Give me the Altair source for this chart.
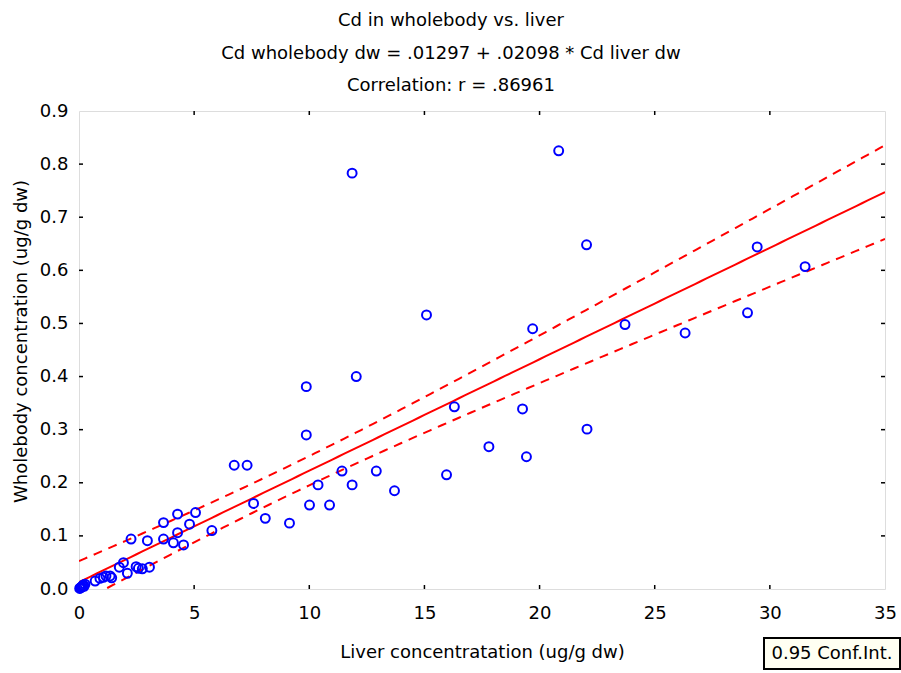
import altair as alt
import numpy as np
import pandas as pd

# ---- data ----
liver = [0.03, 0.06, 0.09, 0.12, 0.15, 0.19, 0.22, 0.26, 0.70, 0.91, 1.06, 1.17, 1.35, 1.42,
         1.75, 1.93, 2.10, 2.48, 2.58, 2.75, 3.06,
         2.26, 2.97, 3.67, 3.67, 4.10, 4.28, 4.28, 4.54, 4.80, 5.06, 5.77,
         6.74, 7.30, 7.58, 8.09, 9.14, 9.87, 9.87, 10.01, 10.38, 10.88,
         11.42, 11.86, 11.86, 12.04, 12.91, 13.70, 15.09, 15.96, 16.30,
         17.80, 19.26, 19.43, 19.70, 20.83, 22.04, 22.06, 23.71, 26.32,
         29.03, 29.45, 31.53]
wholebody = [0.001, 0.002, 0.003, 0.004, 0.006, 0.0075, 0.005, 0.009, 0.015, 0.020, 0.022, 0.0245, 0.0245, 0.021,
             0.041, 0.0496, 0.0295, 0.042, 0.039, 0.038, 0.041,
             0.094, 0.091, 0.125, 0.094, 0.087, 0.141, 0.106, 0.083, 0.122, 0.144, 0.110,
             0.233, 0.233, 0.161, 0.133, 0.124, 0.381, 0.290, 0.158, 0.196, 0.158,
             0.222, 0.196, 0.783, 0.400, 0.222, 0.185, 0.516, 0.215, 0.343,
             0.268, 0.339, 0.249, 0.490, 0.825, 0.648, 0.301, 0.498, 0.482,
             0.520, 0.644, 0.607]
intercept = 0.01297
slope = 0.02098
x_ticks = [0, 5, 10, 15, 20, 25, 30, 35]
y_ticks = [0.0, 0.1, 0.2, 0.3, 0.4, 0.5, 0.6, 0.7, 0.8, 0.9]
title_lines = ["Cd in wholebody vs. liver",
               "Cd wholebody dw = .01297 + .02098 * Cd liver dw",
               "Correlation: r = .86961"]
legend_label = "0.95 Conf.Int."

# ---- derived fit and 95% confidence band ----
x = np.array(liver)
y = np.array(wholebody)
n = len(x)
resid = y - (intercept + slope * x)
s = np.sqrt(np.sum(resid ** 2) / (n - 2))
xbar = x.mean()
sxx = np.sum((x - xbar) ** 2)
t = 2.0
grid = np.linspace(0, 35, 141)
fit = intercept + slope * grid
half = t * s * np.sqrt(1.0 / n + (grid - xbar) ** 2 / sxx)
band = pd.DataFrame({"x": grid, "fit": fit, "upper": fit + half, "lower": fit - half})
pts = pd.DataFrame({"x": liver, "y": wholebody})

W, H = 806, 478
FONT = "DejaVu Sans"
xs = alt.Scale(domain=[0, 35], nice=False, zero=False)
ys = alt.Scale(domain=[0, 0.9], nice=False, zero=False)

xaxis = alt.Axis(values=x_ticks, title="Liver concentratation (ug/g dw)", grid=False,
                 ticks=False, domain=False, labelFont=FONT, labelFontSize=18,
                 labelColor="black", labelPadding=15, titleFont=FONT, titleFontSize=18,
                 titleFontWeight="normal", titleColor="black", titlePadding=21,
                 labelFlush=False)
yaxis = alt.Axis(values=y_ticks, format=".1f", title="Wholebody concentration (ug/g dw)",
                 grid=False, ticks=False, domain=False, labelFont=FONT, labelFontSize=18,
                 labelColor="black", labelPadding=11, titleFont=FONT, titleFontSize=18,
                 titleFontWeight="normal", titleColor="black", titlePadding=9,
                 titleY=230, labelFlush=False)

points = alt.Chart(pts).mark_point(shape="circle", filled=False, color="#0000FF", opacity=1,
                                   size=80, strokeWidth=2, clip=False).encode(
    x=alt.X("x:Q", scale=xs, axis=xaxis),
    y=alt.Y("y:Q", scale=ys, axis=yaxis),
)

base = alt.Chart(band)
fit_line = base.mark_line(color="#FF0000", strokeWidth=2, clip=True).encode(
    x=alt.X("x:Q", scale=xs), y=alt.Y("fit:Q", scale=ys))
up_line = base.mark_line(color="#FF0000", strokeWidth=2, strokeDash=[9, 7], clip=True).encode(
    x=alt.X("x:Q", scale=xs), y=alt.Y("upper:Q", scale=ys))
lo_line = base.mark_line(color="#FF0000", strokeWidth=2, strokeDash=[9, 7], clip=True).encode(
    x=alt.X("x:Q", scale=xs), y=alt.Y("lower:Q", scale=ys))

xt = pd.DataFrame({"v": x_ticks[1:-1]})
yt = pd.DataFrame({"v": y_ticks[1:-1]})
tick_top = alt.Chart(xt).mark_rule(color="black", strokeWidth=1.5).encode(
    x=alt.X("v:Q", scale=xs), y=alt.value(0), y2=alt.value(4))
tick_bot = alt.Chart(xt).mark_rule(color="black", strokeWidth=1.5).encode(
    x=alt.X("v:Q", scale=xs), y=alt.value(H), y2=alt.value(H - 4))
tick_left = alt.Chart(yt).mark_rule(color="black", strokeWidth=1.5).encode(
    y=alt.Y("v:Q", scale=ys), x=alt.value(0), x2=alt.value(4))
tick_right = alt.Chart(yt).mark_rule(color="black", strokeWidth=1.5).encode(
    y=alt.Y("v:Q", scale=ys), x=alt.value(W), x2=alt.value(W - 4))

leg = pd.DataFrame({"label": [legend_label]})
leg_box = alt.Chart(leg).mark_rect(fill="#FFFFF2", stroke="black", strokeWidth=2, clip=False).encode(
    x=alt.value(685), x2=alt.value(821), y=alt.value(527), y2=alt.value(558))
leg_text = alt.Chart(leg).mark_text(font=FONT, fontSize=18, color="black", align="center",
                                    baseline="middle").encode(
    text="label:N", x=alt.value(753), y=alt.value(543))

chart = alt.layer(
    fit_line, up_line, lo_line, points,
    tick_top, tick_bot, tick_left, tick_right, leg_box, leg_text,
).properties(
    width=W, height=H,
    padding={"left": 79, "top": 111, "right": 16, "bottom": 84},
    autosize=alt.AutoSizeParams(type="none"),
    title=alt.TitleParams(text=title_lines, font=FONT, fontSize=18, fontWeight="normal",
                          color="black", lineHeight=32.5, anchor="middle", dx=-31, offset=7),
).configure_view(stroke="black", strokeWidth=2).configure(background="white")

chart.save("out.html", embed_options={"renderer": "svg", "actions": False})
